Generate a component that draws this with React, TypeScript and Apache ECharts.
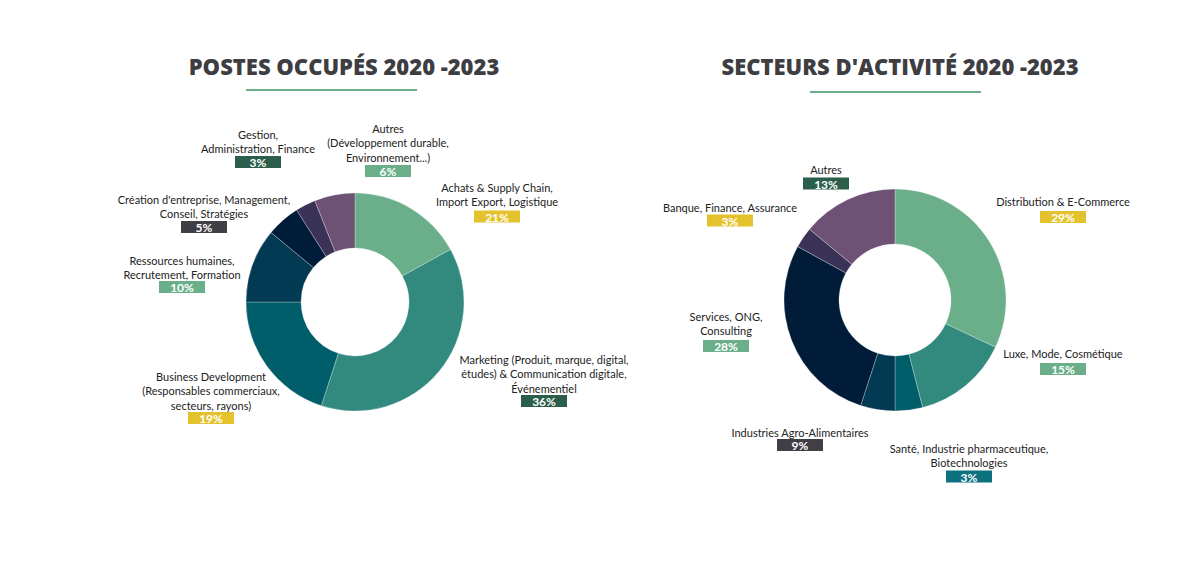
import React, { useEffect, useRef } from "react";
import * as echarts from "echarts";

// ---- Data: Postes occupés 2020-2023 (slice shares as drawn, label percentages as printed)
const postesCategories = [
  "Achats & Supply Chain,\nImport Export, Logistique",
  "Marketing (Produit, marque, digital,\nétudes) & Communication digitale,\nÉvénementiel",
  "Business Development\n(Responsables commerciaux,\nsecteurs, rayons)",
  "Ressources humaines,\nRecrutement, Formation",
  "Création d'entreprise, Management,\nConseil, Stratégies",
  "Gestion,\nAdministration, Finance",
  "Autres\n(Développement durable,\nEnvironnement...)",
];
const postesShares = [17, 38, 20, 11, 5, 3, 6];
const postesPct = ["21%", "36%", "19%", "10%", "5%", "3%", "6%"];

// ---- Data: Secteurs d'activité 2020-2023
const secteursCategories = [
  "Distribution & E-Commerce",
  "Luxe, Mode, Cosmétique",
  "Santé, Industrie pharmaceutique,\nBiotechnologies",
  "Industries Agro-Alimentaires",
  "Services, ONG,\nConsulting",
  "Banque, Finance, Assurance",
  "Autres",
];
const secteursShares = [32, 14, 4, 5, 28, 3, 14];
const secteursPct = ["29%", "15%", "3%", "9%", "28%", "3%", "13%"];

const titles = ["POSTES OCCUPÉS 2020 -2023", "SECTEURS D'ACTIVITÉ 2020 -2023"];

// ---- Styles / layout (kept apart from data)
const sliceColors = ["#6aae8a", "#328a7f", "#005e6b", "#023a53", "#011c39", "#3a3357", "#6d5275"];
const C_YEL = "#e4c22e";
const C_DGR = "#2b5e4b";
const C_GRY = "#3f3f45";
const C_LGR = "#6aae8a";
const C_TEAL = "#0d7180";
const postesBadgeColors = [C_YEL, C_DGR, C_YEL, C_LGR, C_GRY, C_DGR, C_LGR];
const secteursBadgeColors = [C_YEL, C_LGR, C_TEAL, C_GRY, C_LGR, C_YEL, C_DGR];

// [textCenterX, firstLineCenterY, badgeCenterY]
const postesLayout = [
  [497, 187, 216.5],
  [544, 359, 401],
  [211, 376, 418],
  [182, 260, 287],
  [204, 199, 227],
  [258, 134, 162],
  [388, 128, 171],
];
const secteursLayout = [
  [1063, 201, 217],
  [1063, 353, 369],
  [969, 448, 476.5],
  [800, 432, 445],
  [726, 316, 346],
  [730, 207, 220.5],
  [826, 169, 183.5],
];

const FONT = "Lato, 'Open Sans', sans-serif";
const TITLE_FONT = "'Open Sans', Lato, sans-serif";
const LINE_H = 14.5;

function labelGraphics(cats: string[], pcts: string[], layout: number[][], badgeColors: string[]) {
  const out: any[] = [];
  cats.forEach((c, i) => {
    const [x, y0, by] = layout[i];
    out.push({
      type: "text",
      x,
      y: y0 - LINE_H / 2,
      silent: true,
      style: {
        text: c,
        fill: "#222222",
        font: `11px ${FONT}`,
        lineHeight: LINE_H,
        align: "center",
        verticalAlign: "top",
      },
    });
    out.push({
      type: "rect",
      shape: { x: x - 23, y: by - 6, width: 46, height: 12 },
      silent: true,
      style: { fill: badgeColors[i] },
    });
    out.push({
      type: "text",
      x,
      y: by + 0.5,
      silent: true,
      style: {
        text: pcts[i],
        fill: "#ffffff",
        font: `bold 12px ${FONT}`,
        align: "center",
        verticalAlign: "middle",
      },
    });
  });
  return out;
}

export default function App() {
  const ref = useRef<HTMLDivElement>(null);
  useEffect(() => {
    if (!ref.current) return;
    const chart = echarts.init(ref.current, null, { renderer: "svg" });
    const pieBase = {
      type: "pie",
      startAngle: 90,
      clockwise: true,
      label: { show: false },
      labelLine: { show: false },
      silent: true,
      itemStyle: { borderColor: "rgba(255,255,255,0.45)", borderWidth: 0.6 },
      emphasis: { disabled: true },
    };
    const titleStyle = { fontFamily: TITLE_FONT, fontWeight: 800, fontSize: 22, color: "#3d3d42" };
    chart.setOption({
      animation: false,
      backgroundColor: "#ffffff",
      color: sliceColors,
      title: [
        { text: titles[0], left: 339, top: 50, textAlign: "center", textStyle: titleStyle },
        { text: titles[1], left: 895, top: 50, textAlign: "center", textStyle: titleStyle },
      ],
      series: [
        {
          ...pieBase,
          center: [355, 302],
          radius: [54, 109],
          data: postesCategories.map((n, i) => ({ name: n, value: postesShares[i] })),
        },
        {
          ...pieBase,
          center: [895, 300],
          radius: [56, 111],
          data: secteursCategories.map((n, i) => ({ name: n, value: secteursShares[i] })),
        },
      ],
      graphic: [
        {
          type: "rect",
          shape: { x: 246, y: 89, width: 171, height: 2 },
          style: { fill: "#6aae8a" },
          silent: true,
        },
        {
          type: "rect",
          shape: { x: 810, y: 91, width: 171, height: 2 },
          style: { fill: "#6aae8a" },
          silent: true,
        },
        ...labelGraphics(postesCategories, postesPct, postesLayout, postesBadgeColors),
        ...labelGraphics(secteursCategories, secteursPct, secteursLayout, secteursBadgeColors),
      ],
    });
    return () => chart.dispose();
  }, []);
  return (
    <div
      ref={ref}
      style={{ position: "fixed", left: 0, top: 0, width: 1200, height: 567, background: "#fff" }}
    />
  );
}
